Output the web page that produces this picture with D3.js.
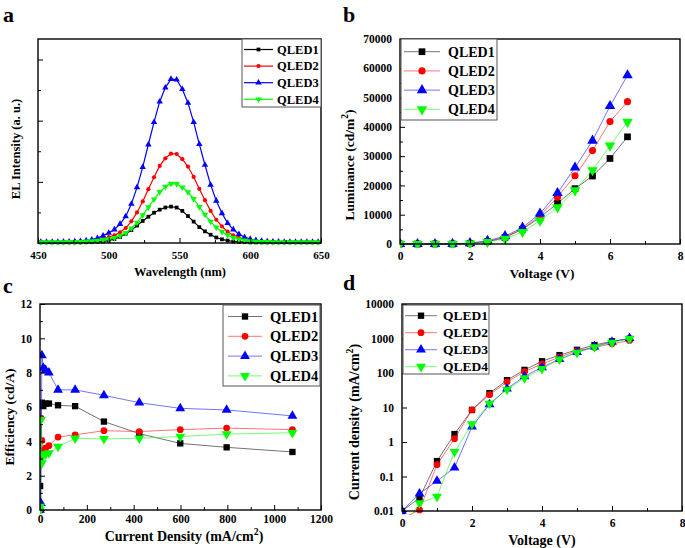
<!DOCTYPE html>
<html><head><meta charset="utf-8">
<script src="https://cdn.jsdelivr.net/npm/d3@7"></script>
<style>
body{margin:0;background:#fff;}
svg{display:block;font-family:"Liberation Serif","Times New Roman",serif;font-weight:bold;}
</style></head>
<body><svg id="chart" width="685" height="548"></svg>
<script>
// ---------- DATA ----------
const seriesNames = ["QLED1","QLED2","QLED3","QLED4"];
const seriesColors = ["#000000","#ff0000","#0000ff","#00ff00"];

// (a) EL spectra
const wavelength = [452,456,460,464,468,472,476,480,484,488,492,496,
  500,504,508,512,516,520,524,528,532,536,540,544,548,552,556,560,564,568,572,576,580,584,588,592,596,600,
  604,608,612,616,620,624,628,632,636,640,644,648];
const elQLED1 = [0.02,0.02,0.02,0.02,0.02,0.02,0.02,0.02,0.025,0.03,0.04,0.05,
  0.08,0.13,0.20,0.30,0.42,0.57,0.72,0.86,0.99,1.09,1.16,1.19,1.16,1.05,0.88,0.70,0.52,0.38,0.27,0.18,0.12,0.08,0.05,0.04,0.03,0.02,
  0.02,0.02,0.02,0.02,0.02,0.02,0.02,0.02,0.02,0.02,0.02,0.02];
const elQLED2 = [0.03,0.03,0.03,0.03,0.035,0.035,0.04,0.045,0.055,0.07,0.10,0.14,
  0.19,0.25,0.35,0.49,0.71,1.00,1.36,1.76,2.15,2.52,2.77,2.92,2.91,2.74,2.50,2.16,1.77,1.40,1.05,0.76,0.54,0.37,0.25,0.17,0.12,0.08,
  0.06,0.05,0.04,0.035,0.03,0.03,0.03,0.03,0.03,0.03,0.03,0.03];
const elQLED3 = [0.03,0.03,0.03,0.03,0.04,0.04,0.05,0.06,0.08,0.11,0.16,0.24,
  0.33,0.44,0.62,0.87,1.28,1.82,2.48,3.22,3.95,4.62,5.08,5.36,5.34,5.03,4.58,3.95,3.23,2.55,1.90,1.38,0.97,0.65,0.44,0.29,0.19,0.13,
  0.09,0.07,0.05,0.04,0.04,0.03,0.03,0.03,0.03,0.03,0.03,0.03];
const elQLED4 = [0.03,0.03,0.03,0.03,0.03,0.035,0.035,0.04,0.05,0.06,0.08,0.10,
  0.13,0.17,0.24,0.33,0.48,0.67,0.91,1.17,1.43,1.67,1.84,1.94,1.93,1.82,1.66,1.44,1.18,0.93,0.70,0.51,0.37,0.26,0.18,0.12,0.09,0.06,
  0.05,0.04,0.035,0.03,0.03,0.03,0.03,0.03,0.03,0.03,0.03,0.03];
const aXTicks = [450,500,550,600,650];

// (b) Luminance vs voltage
const voltage = [0,0.5,1,1.5,2,2.5,3,3.5,4,4.5,5,5.5,6,6.5];
const lumQLED1 = [0,0,0,0,200,800,2200,5000,9100,13900,18900,23200,29200,36600];
const lumQLED2 = [0,0,0,0,200,800,2300,5200,9600,16000,23300,31900,41800,48600];
const lumQLED3 = [0,0,0,50,300,1100,2700,5600,10400,17400,26100,35300,47100,57600];
const lumQLED4 = [0,0,0,0,150,700,1800,4100,8000,12500,18300,25200,33600,41700];
const bYTicks = [0,10000,20000,30000,40000,50000,60000,70000];
const bXTicks = [0,2,4,6,8];

// (c) Efficiency vs current density
const currentDensity = [0,0.5,4,8,14,24,38,77,150,273,424,599,797,1078];
const effQLED1 = [0,1.4,6.1,6.25,6.05,6.2,6.2,6.1,6.05,5.15,4.45,3.88,3.65,3.38];
const effQLED2 = [0,2.9,5.35,4.06,3.47,3.6,3.75,4.25,4.38,4.62,4.57,4.68,4.77,4.68];
const effQLED3 = [0,0.4,0.4,9.0,8.27,8.15,8.0,7.0,7.0,6.68,6.25,5.92,5.83,5.48];
const effQLED4 = [0,0.2,5.25,2.73,3.18,3.25,3.32,3.7,4.18,4.14,4.18,4.28,4.42,4.5];
const cXTicks = [0,200,400,600,800,1000,1200];
const cYTicks = [0,2,4,6,8,10,12];

// (d) Current density vs voltage
const jQLED1 = [0.01,0.024,0.28,1.7,8.5,26,62,123,219,330,470,645,830,980];
const jQLED2 = [0.006,0.0107,0.22,1.25,8.5,23.5,55,110,183,287,440,550,700,870];
const jQLED3 = [0.01,0.032,0.074,0.18,2.8,12.3,35,80,146,253,400,585,800,1020];
const jQLED4 = [0.003,0.017,0.026,0.52,3.3,13,33,71,132,250,390,560,760,980];
const dYTicks = [0.01,0.1,1,10,100,1000,10000];
const dYTickLabels = ["0.01","0.1","1","10","100","1000","10000"];

// ---------- DRAWING ----------
const svg = d3.select("#chart");
const symbols = [d3.symbolSquare, d3.symbolCircle, d3.symbolTriangle, d3.symbolTriangle];
const symRot = [0,0,0,180];

function drawPanel(cfg){
  const g = svg.append("g");
  const x = cfg.x, y = cfg.y;
  const [L,R] = x.range(), [B,T] = y.range();
  const clipId = "clip"+cfg.id;
  svg.append("clipPath").attr("id",clipId).append("rect")
    .attr("x",L).attr("y",T-4).attr("width",R-L+4).attr("height",B-T+8);
  cfg.series.forEach((s,i)=>{
    const pts = cfg.xs.map((xv,k)=>[xv,s[k]]);
    const line = d3.line().x(d=>x(d[0])).y(d=>y(d[1]));
    g.append("path").attr("d",line(pts)).attr("fill","none")
      .attr("stroke",seriesColors[i]).attr("stroke-width",cfg.lw)
      .attr("stroke-opacity",cfg.lineOpacity).attr("clip-path",`url(#${clipId})`);
    const sym = d3.symbol().type(symbols[i]).size(cfg.msize[i]);
    g.append("g").attr("clip-path",`url(#${clipId})`).selectAll("path")
      .data(pts.filter(d=>!cfg.ymin || d[1]>=cfg.ymin)).join("path")
      .attr("d",sym).attr("fill",seriesColors[i])
      .attr("transform",d=>`translate(${x(d[0])},${y(d[1])}) rotate(${symRot[i]})`);
  });
  g.append("rect").attr("x",L).attr("y",T).attr("width",R-L).attr("height",B-T)
    .attr("fill","none").attr("stroke","#000").attr("stroke-width",1.4);
  const xa = g.append("g").attr("transform",`translate(0,${B})`)
    .call(d3.axisBottom(x).tickValues(cfg.xTicks).tickSize(-5).tickPadding(cfg.xPad||8).tickFormat(cfg.xFormat||d3.format("d")));
  xa.select(".domain").remove();
  xa.selectAll("text").attr("font-size",cfg.tickFont).attr("font-family","Liberation Serif").attr("font-weight","bold").attr("fill","#000");
  if(cfg.xMinor){
    const xm = g.append("g").attr("transform",`translate(0,${B})`)
      .call(d3.axisBottom(x).tickValues(cfg.xMinor).tickSize(-3).tickFormat(""));
    xm.select(".domain").remove();
  }
  const ya = g.append("g").attr("transform",`translate(${L},0)`)
    .call(d3.axisLeft(y).tickValues(cfg.yTicks).tickSize(-5).tickPadding(8).tickFormat(cfg.yFormat||d3.format("d")));
  ya.select(".domain").remove();
  ya.selectAll("text").attr("font-size",cfg.tickFont).attr("font-family","Liberation Serif").attr("font-weight","bold").attr("fill","#000");
  if(cfg.yMinor){
    const ym = g.append("g").attr("transform",`translate(${L},0)`)
      .call(d3.axisLeft(y).tickValues(cfg.yMinor).tickSize(-3).tickFormat(""));
    ym.select(".domain").remove();
  }
  const lg = cfg.legend;
  g.append("rect").attr("x",lg.x0).attr("y",lg.y0).attr("width",lg.x1-lg.x0).attr("height",lg.y1-lg.y0)
    .attr("fill","#fff").attr("stroke","#555").attr("stroke-width",1);
  seriesNames.forEach((n,i)=>{
    const yy = lg.rowY + i*lg.dy;
    g.append("line").attr("x1",lg.lx0).attr("x2",lg.lx1).attr("y1",yy).attr("y2",yy)
      .attr("stroke",seriesColors[i]).attr("stroke-width",cfg.lw).attr("stroke-opacity",cfg.lineOpacity);
    g.append("path").attr("d",d3.symbol().type(symbols[i]).size(cfg.msize[i]))
      .attr("fill",seriesColors[i]).attr("transform",`translate(${(lg.lx0+lg.lx1)/2},${yy}) rotate(${symRot[i]})`);
    g.append("text").attr("x",lg.tx).attr("y",yy).attr("dy","0.35em").attr("font-size",lg.font).text(n);
  });
  svg.append("text").attr("x",cfg.label[1]).attr("y",cfg.label[2]).attr("font-size",22).text(cfg.label[0]);
  return g;
}

function titleParts(t,parts,size){
  parts.forEach(p=>{
    const ts = t.append("tspan").text(p.t);
    if(p.sup){ ts.attr("dy",-6).attr("font-size",size*0.7); }
    if(p.after){ ts.attr("dy",6); }
  });
}
function ytitle(x0,yc,parts,size){
  const t = svg.append("text").attr("transform",`translate(${x0},${yc}) rotate(-90)`)
    .attr("text-anchor","middle").attr("font-size",size);
  titleParts(t,parts,size);
}
function xtitle(xc,y0,parts,size){
  const t = svg.append("text").attr("x",xc).attr("y",y0).attr("text-anchor","middle").attr("font-size",size);
  titleParts(t,parts,size);
}

// Panel a
drawPanel({
  id:"a", x:d3.scaleLinear().domain([450,650]).range([38,321]),
  y:d3.scaleLinear().domain([0,6.67]).range([243,39]),
  xs:wavelength, series:[elQLED1,elQLED2,elQLED3,elQLED4],
  lw:1.2, lineOpacity:1, msize:[14,14,18,18],
  xTicks:aXTicks, xMinor:[475,525,575,625], yTicks:[2,4,6], yMinor:[1,3,5], yFormat:()=>"",
  tickFont:11,
  legend:{x0:242,x1:321,y0:39,y1:107,rowY:49.5,dy:16.6,lx0:244,lx1:273,tx:277,font:12.5},
  label:["a",3,22]
});
xtitle(180,276,[{t:"Wavelength (nm)"}],12.5);
ytitle(20,149,[{t:"EL Intensity (a. u.)"}],12.5);

// Panel b
drawPanel({
  id:"b", x:d3.scaleLinear().domain([0,8]).range([400,680]),
  y:d3.scaleLinear().domain([0,70000]).range([244,39]),
  xs:voltage, series:[lumQLED1,lumQLED2,lumQLED3,lumQLED4],
  lw:1, lineOpacity:0.55, msize:[45,40,48,48],
  xTicks:bXTicks, xMinor:[1,3,5,7], yTicks:bYTicks, yMinor:[5000,15000,25000,35000,45000,55000,65000],
  tickFont:11.5,
  legend:{x0:401,x1:497,y0:39,y1:120,rowY:51.7,dy:19.2,lx0:404,lx1:440,tx:448,font:14},
  label:["b",343,22]
});
xtitle(542,278,[{t:"Voltage (V)"}],13.5);
ytitle(354,165,[{t:"Luminance (cd/m"},{t:"2",sup:true},{t:")",after:true}],13.5);

// Panel c
drawPanel({
  id:"c", x:d3.scaleLinear().domain([0,1200]).range([40,321]),
  y:d3.scaleLinear().domain([0,12]).range([510,304]),
  xs:currentDensity, series:[effQLED1,effQLED2,effQLED3,effQLED4],
  lw:1, lineOpacity:0.55, msize:[40,36,42,42],
  xTicks:cXTicks, xMinor:[100,300,500,700,900,1100], yTicks:cYTicks, yMinor:[1,3,5,7,9,11],
  tickFont:11.5, xPad:5,
  legend:{x0:223,x1:320,y0:305,y1:386,rowY:316.5,dy:19.8,lx0:228,lx1:262,tx:270,font:14.5},
  label:["c",3,293]
});
xtitle(184,541,[{t:"Current Density (mA/cm"},{t:"2",sup:true},{t:")",after:true}],14);
ytitle(14,417,[{t:"Efficiency (cd/A)"}],13.5);

// Panel d
drawPanel({
  id:"d", x:d3.scaleLinear().domain([0,8]).range([402,682]),
  y:d3.scaleLog().domain([0.01,10000]).range([511,304]),
  xs:voltage, series:[jQLED1,jQLED2,jQLED3,jQLED4], ymin:0.0099,
  lw:1, lineOpacity:0.55, msize:[40,36,42,42],
  xTicks:bXTicks, xMinor:[1,3,5,7], yTicks:dYTicks, yFormat:(d,i)=>dYTickLabels[i],
  tickFont:11.5,
  legend:{x0:403,x1:489,y0:305,y1:374,rowY:315.7,dy:17,lx0:405,lx1:437,tx:443,font:13.5},
  label:["d",343,290]
});
xtitle(542,545,[{t:"Voltage (V)"}],14);
ytitle(359,422,[{t:"Current density (mA/cm"},{t:"2",sup:true},{t:")",after:true}],14);
</script></body></html>
